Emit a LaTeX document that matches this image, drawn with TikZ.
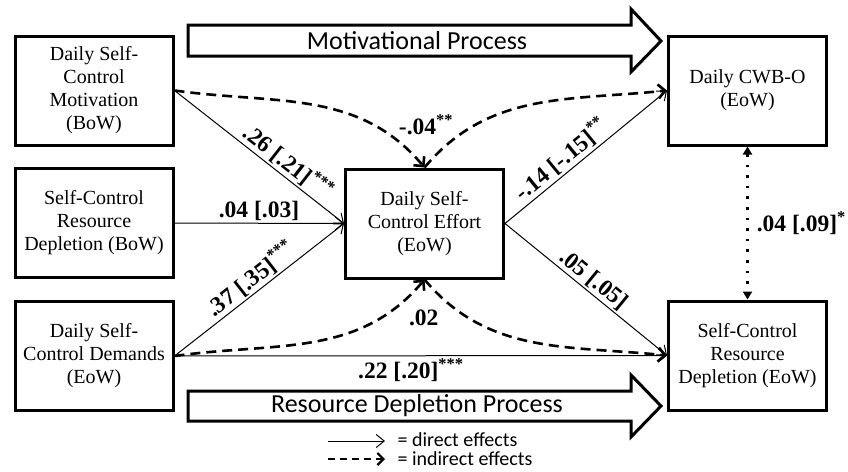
\documentclass[tikz,border=0pt]{standalone}
\usepackage{fontspec}
\setmainfont{Liberation Serif}
\newfontfamily\calibri{Carlito}
\usetikzlibrary{arrows.meta}
\newcommand{\est}[2]{\textbf{#1}\textsuperscript{\textbf{#2}}}

\begin{document}
\begin{tikzpicture}[x=1pt,y=-1pt,
    box/.style={draw,line width=3pt,minimum width=158pt,minimum height=109pt,inner sep=0pt,
      align=center,font=\fontsize{20}{23}\selectfont},
    direct/.style={line width=1pt,-{Straight Barb[length=8pt,width=13pt,line width=1pt]}},
    indirect/.style={line width=2.6pt,dash pattern=on 10pt off 6pt,
      -{Straight Barb[length=7pt,width=14pt,line width=2.6pt]}},
    est/.style={font=\fontsize{23.5}{25}\selectfont,inner sep=2pt},
    proc/.style={draw,line width=3pt,line join=miter,fill=white}]
  \useasboundingbox (0,0) rectangle (848,471);
  % the two process arrows
  \draw[proc] (188,25) -- (631,25) -- (631,9) -- (661,41) -- (631,72) -- (631,56) -- (188,56) -- cycle;
  \draw[proc] (188,391) -- (631,391) -- (631,375) -- (661,406) -- (631,437) -- (631,421) -- (188,421) -- cycle;
  \node[font=\calibri\fontsize{26}{28}\selectfont] (motproc) at (417,41) {Motivational Process};
  \node[font=\calibri\fontsize{26}{28}\selectfont] (depproc) at (417,406) {Resource Depletion Process};

  \node[box] (mot)  at (94,90.5)    {Daily Self-\\Control\\Motivation\\(BoW)};
  \node[box] (depb) at (94,223)     {Self-Control\\Resource\\Depletion (BoW)};
  \node[box] (dem)  at (94,356)     {Daily Self-\\Control Demands\\(EoW)};
  \node[box] (eff)  at (424.5,223.5) {Daily Self-\\Control Effort\\(EoW)};
  \node[box] (cwb)  at (747.5,90.5) {Daily CWB-O\\(EoW)};
  \node[box] (depe) at (747.5,355.5) {Self-Control\\Resource\\Depletion (EoW)};

  % direct effects
  \draw[direct] (mot.east) -- (eff.west) node[est,pos=0.62,above,sloped] {\est{.26 [.21]}{***}};
  \draw[direct] (depb.east) -- (eff.west) node[est,pos=0.5,above] {\est{.04 [.03]}{}};
  \draw[direct] (dem.east) -- (eff.west) node[est,pos=0.5,above,sloped] {\est{.37 [.35]}{***}};
  \draw[direct] (eff.east) -- (cwb.west) node[est,pos=0.4,above,sloped] {\est{-.14 [-.15]}{**}};
  \draw[direct] (eff.east) -- (depe.west) node[est,pos=0.5,above,sloped] {\est{.05 [.05]}{}};
  \draw[direct] (dem.east) -- (depe.west) node[est,pos=0.48,below] {\est{.22 [.20]}{***}};

  % indirect effects
  \draw[indirect] (mot.east) to[out=-8,in=130] (eff.north);
  \draw[indirect] (eff.north) to[out=50,in=186] (cwb.west);
  \draw[indirect] (dem.east) to[out=8,in=-130] (eff.south);
  \draw[indirect] (eff.south) to[out=-50,in=174] (depe.west);
  \node[est] (indmot) at (426,125) {\est{-.04}{**}};
  \node[est] (inddep) at (424,318) {\est{.02}{}};

  \draw[line width=2.6pt,dash pattern=on 2.6pt off 8pt,
    {Triangle[length=8pt,width=9pt]}-{Triangle[length=8pt,width=9pt]}]
    (cwb.south) -- (depe.north) node[est,pos=0.5,right=6pt] {\est{.04 [.09]}{*}};

  % legend
  \coordinate (dirA) at (328,441);
  \coordinate (dirB) at (385,441);
  \coordinate (indA) at (328,459);
  \coordinate (indB) at (385,459);
  \draw[direct] (dirA) -- (dirB);
  \draw[line width=2.2pt,dash pattern=on 7pt off 5pt,
    -{Straight Barb[length=6pt,width=12pt,line width=2.2pt]}] (indA) -- (indB);
  \node[anchor=west,font=\calibri\fontsize{20}{21}\selectfont] (dirtext) at (394,440) {= direct effects};
  \node[anchor=west,font=\calibri\fontsize{20}{21}\selectfont] (indtext) at (394,459) {= indirect effects};
\end{tikzpicture}
\end{document}
